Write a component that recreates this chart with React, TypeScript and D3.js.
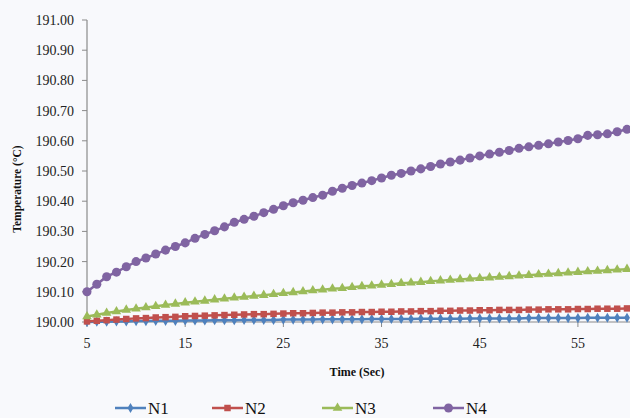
import React from "react";
import * as d3 from "d3";

// Time samples (seconds)
const times: number[] = [
  5, 6, 7, 8, 9, 10, 11, 12, 13, 14, 15, 16, 17, 18, 19, 20, 21, 22, 23, 24,
  25, 26, 27, 28, 29, 30, 31, 32, 33, 34, 35, 36, 37, 38, 39, 40, 41, 42, 43, 44,
  45, 46, 47, 48, 49, 50, 51, 52, 53, 54, 55, 56, 57, 58, 59, 60,
];

// Node temperatures (°C)
const n1: number[] = [
  190.000, 190.001, 190.001, 190.002, 190.002, 190.003, 190.003, 190.004, 190.004, 190.004,
  190.005, 190.005, 190.005, 190.006, 190.006, 190.006, 190.007, 190.007, 190.007, 190.007,
  190.008, 190.008, 190.008, 190.008, 190.009, 190.009, 190.009, 190.009, 190.009, 190.010,
  190.010, 190.010, 190.010, 190.010, 190.011, 190.011, 190.011, 190.011, 190.011, 190.012,
  190.012, 190.012, 190.012, 190.012, 190.012, 190.013, 190.013, 190.013, 190.013, 190.013,
  190.013, 190.014, 190.014, 190.014, 190.014, 190.014,
];
const n2: number[] = [
  190.002, 190.004, 190.006, 190.008, 190.010, 190.012, 190.013, 190.015, 190.016, 190.017,
  190.019, 190.020, 190.021, 190.022, 190.023, 190.024, 190.025, 190.026, 190.026, 190.027,
  190.028, 190.029, 190.029, 190.030, 190.031, 190.031, 190.032, 190.032, 190.033, 190.033,
  190.034, 190.034, 190.035, 190.035, 190.036, 190.036, 190.037, 190.037, 190.038, 190.038,
  190.039, 190.039, 190.040, 190.040, 190.040, 190.041, 190.041, 190.042, 190.042, 190.042,
  190.043, 190.043, 190.044, 190.044, 190.044, 190.045,
];
const n3: number[] = [
  190.018, 190.024, 190.030, 190.035, 190.040, 190.044, 190.048, 190.052, 190.056, 190.060,
  190.064, 190.067, 190.070, 190.074, 190.077, 190.080, 190.083, 190.086, 190.089, 190.092,
  190.095, 190.098, 190.101, 190.104, 190.107, 190.110, 190.112, 190.115, 190.118, 190.120,
  190.123, 190.125, 190.128, 190.130, 190.132, 190.135, 190.137, 190.139, 190.141, 190.143,
  190.145, 190.147, 190.149, 190.151, 190.153, 190.155, 190.157, 190.159, 190.161, 190.163,
  190.165, 190.167, 190.169, 190.171, 190.173, 190.175,
];
const n4: number[] = [
  190.100, 190.125, 190.150, 190.165, 190.183, 190.200, 190.212, 190.225, 190.238, 190.250,
  190.262, 190.277, 190.290, 190.302, 190.315, 190.330, 190.340, 190.350, 190.362, 190.373,
  190.385, 190.395, 190.403, 190.412, 190.420, 190.433, 190.443, 190.452, 190.460, 190.468,
  190.477, 190.486, 190.492, 190.500, 190.507, 190.515, 190.523, 190.530, 190.536, 190.543,
  190.550, 190.556, 190.562, 190.568, 190.575, 190.580, 190.585, 190.590, 190.596, 190.601,
  190.607, 190.618, 190.620, 190.623, 190.630, 190.638,
];

const seriesNames: string[] = ["N1", "N2", "N3", "N4"];
const xTickValues: number[] = [5, 15, 25, 35, 45, 55];
const yTickValues: number[] = [
  190.0, 190.1, 190.2, 190.3, 190.4, 190.5, 190.6, 190.7, 190.8, 190.9, 191.0,
];

const colors = ["#4F81BD", "#C0504D", "#9BBB59", "#8064A2"];
const symbols = [d3.symbolDiamond, d3.symbolSquare, d3.symbolTriangle, d3.symbolCircle];
const symbolSizes = [30, 42, 40, 64];

const W = 630;
const H = 418;
const FONT = "Liberation Serif, Times New Roman, DejaVu Serif, serif";
const textStyle = { fontFamily: FONT };

export default function App() {
  const x = d3.scaleLinear().domain([5, 60]).range([87, 627]);
  const y = d3.scaleLinear().domain([190, 191]).range([322, 20]);
  const allSeries = [n1, n2, n3, n4];

  const line = d3
    .line<number>()
    .x((_, i) => x(times[i]))
    .y((v) => y(v));

  const legendX = [115, 212, 322, 433];

  return (
    <svg
      width={W}
      height={H}
      style={{ position: "absolute", left: 0, top: 0, background: "#f8f9fc" }}
    >
      <rect x={0} y={0} width={W} height={H} fill="#f8f9fc" />

      {/* y axis */}
      <line x1={87} x2={87} y1={y(191)} y2={y(190)} stroke="#8a8a8a" strokeWidth={1.2} />
      {yTickValues.map((t) => (
        <g key={t}>
          <line x1={82} x2={87} y1={y(t)} y2={y(t)} stroke="#8a8a8a" />
          <text
            x={74}
            y={y(t)}
            dy="0.35em"
            textAnchor="end"
            fontSize={14}
            fill="#222"
            style={textStyle}
          >
            {t.toFixed(2)}
          </text>
        </g>
      ))}

      {/* x axis */}
      <line x1={87} x2={W} y1={y(190)} y2={y(190)} stroke="#8a8a8a" strokeWidth={1.2} />
      {xTickValues.map((t) => (
        <g key={t}>
          <line x1={x(t)} x2={x(t)} y1={y(190)} y2={y(190) + 5} stroke="#8a8a8a" />
          <text x={x(t)} y={348} textAnchor="middle" fontSize={14} fill="#222" style={textStyle}>
            {t}
          </text>
        </g>
      ))}

      {/* series */}
      {allSeries.map((vals, si) => (
        <g key={si}>
          <path d={line(vals) ?? ""} fill="none" stroke={colors[si]} strokeWidth={2.5} />
          {vals.map((v, i) => (
            <path
              key={i}
              transform={`translate(${x(times[i])},${y(v)})`}
              d={d3.symbol().type(symbols[si]).size(symbolSizes[si])() ?? ""}
              fill={colors[si]}
            />
          ))}
        </g>
      ))}

      {/* axis titles */}
      <text
        transform={`translate(21,${(y(190) + y(191)) / 2 + 18}) rotate(-90)`}
        textAnchor="middle"
        fontSize={11.5}
        fontWeight="bold"
        fill="#111"
        style={textStyle}
      >
        Temperature (°C)
      </text>
      <text
        x={357}
        y={376}
        textAnchor="middle"
        fontSize={12}
        fontWeight="bold"
        fill="#111"
        style={textStyle}
      >
        Time (Sec)
      </text>

      {/* legend */}
      {seriesNames.map((name, i) => (
        <g key={name} transform={`translate(${legendX[i]},408)`}>
          <line x1={0} x2={31} y1={0} y2={0} stroke={colors[i]} strokeWidth={2.5} />
          <path
            transform="translate(15.5,0)"
            d={d3.symbol().type(symbols[i]).size(symbolSizes[i])() ?? ""}
            fill={colors[i]}
          />
          <text x={33} y={6} fontSize={17} fill="#111" style={textStyle}>
            {name}
          </text>
        </g>
      ))}
    </svg>
  );
}
